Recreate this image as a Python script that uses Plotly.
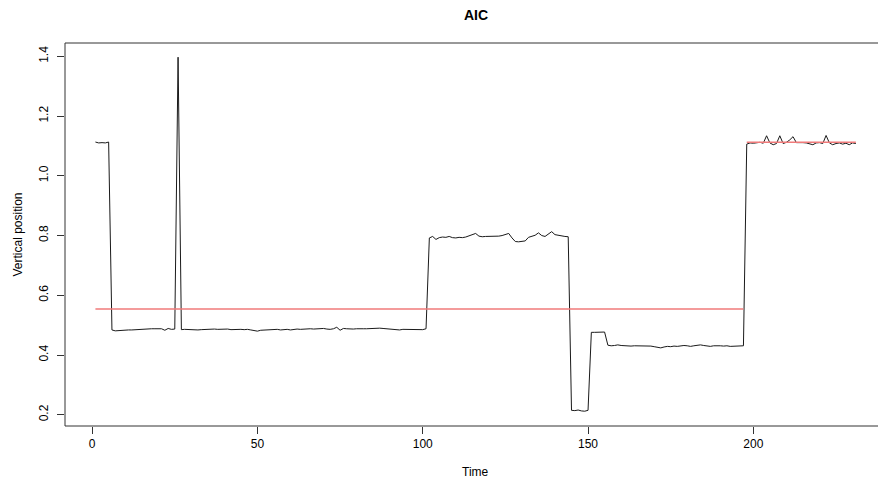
import plotly.graph_objects as go

# ---- data ----
seg_a = [1.113, 1.110, 1.111, 1.110, 1.113]                      # t 1-5
seg_b = [0.484, 0.481, 0.482, 0.484, 0.485, 0.484, 0.484, 0.485, 0.485, 0.486,
         0.486, 0.487, 0.488, 0.488, 0.487, 0.488, 0.483, 0.489, 0.486, 0.487]  # t 6-25
seg_spike = [1.397]                                               # t 26
seg_c = [0.485, 0.486, 0.485, 0.486, 0.485, 0.484, 0.485, 0.486, 0.485, 0.486,
         0.487, 0.486, 0.487, 0.486, 0.487, 0.485, 0.486, 0.485, 0.486, 0.485,
         0.486, 0.484, 0.482, 0.480, 0.483, 0.484, 0.484, 0.486, 0.485, 0.486,
         0.484, 0.485, 0.486, 0.484, 0.486, 0.487, 0.486, 0.487, 0.489, 0.488,
         0.487, 0.488, 0.490, 0.489, 0.487, 0.486, 0.488, 0.493, 0.483, 0.489,
         0.488, 0.487, 0.487, 0.488, 0.489, 0.488, 0.488, 0.489, 0.490, 0.491,
         0.490, 0.489, 0.488, 0.487, 0.486, 0.484, 0.484, 0.486, 0.486, 0.485,
         0.486, 0.485, 0.484, 0.485, 0.488]                       # t 27-101
seg_d = [0.792, 0.797, 0.787, 0.793, 0.795, 0.794, 0.797, 0.793, 0.792, 0.794,
         0.793, 0.795, 0.799, 0.803, 0.807, 0.798, 0.796, 0.797, 0.797, 0.798,
         0.799, 0.798, 0.800, 0.803, 0.807, 0.792, 0.780, 0.779, 0.781, 0.782,
         0.794, 0.797, 0.801, 0.809, 0.800, 0.797, 0.806, 0.813, 0.803, 0.801,
         0.797, 0.797, 0.796]                                     # t 102-144
seg_e = [0.215, 0.214, 0.216, 0.213, 0.212, 0.215]                # t 145-150
seg_f = [0.476, 0.476, 0.477, 0.477, 0.477]                       # t 151-155
seg_g = [0.433, 0.431, 0.432, 0.434, 0.432, 0.431, 0.431, 0.430, 0.431, 0.431,
         0.430, 0.431, 0.432, 0.430, 0.428, 0.427, 0.424, 0.427, 0.429, 0.428,
         0.430, 0.429, 0.431, 0.432, 0.431, 0.429, 0.431, 0.433, 0.434, 0.432,
         0.431, 0.429, 0.431, 0.432, 0.431, 0.430, 0.431, 0.429, 0.429, 0.430,
         0.429, 0.431]                                            # t 156-197
seg_h = [1.106, 1.110, 1.109, 1.110, 1.112, 1.109, 1.134, 1.110, 1.104, 1.108,
         1.134, 1.108, 1.112, 1.120, 1.131, 1.111, 1.112, 1.111, 1.110, 1.108,
         1.104, 1.110, 1.111, 1.108, 1.135, 1.110, 1.104, 1.108, 1.110, 1.106,
         1.109, 1.104, 1.110, 1.108]                              # t 198-231

position = seg_a + seg_b + seg_spike + seg_c + seg_d + seg_e + seg_f + seg_g + seg_h
time = list(range(1, len(position) + 1))

# fitted regime means (red)
fit_start = [1, 198]
fit_end = [197, 231]
fit_level = [0.554, 1.112]

x_ticks = [0, 50, 100, 150, 200]
y_ticks = [0.2, 0.4, 0.6, 0.8, 1.0, 1.2, 1.4]

FONT = "Liberation Sans, Arial, Helvetica, sans-serif"

fig = go.Figure()
fig.add_trace(go.Scatter(x=time, y=position, mode="lines",
                         line=dict(color="#1a1a1a", width=1), showlegend=False))
fx, fy = [], []
for s, e, v in zip(fit_start, fit_end, fit_level):
    fx += [s, e, None]
    fy += [v, v, None]
fig.add_trace(go.Scatter(x=fx, y=fy, mode="lines",
                         line=dict(color="#F07A7A", width=1.5), showlegend=False))

fig.update_layout(
    width=878, height=485,
    margin=dict(l=65, r=0, t=43, b=59),
    paper_bgcolor="white", plot_bgcolor="white",
    font=dict(family=FONT, size=12, color="black"),
    showlegend=False,
)
fig.update_xaxes(range=[-8.2, 237.7], tickvals=x_ticks, ticktext=[str(v) for v in x_ticks],
                 showgrid=False, zeroline=False, showline=False,
                 ticks="outside", ticklen=7,
                 tickcolor="#333", tickwidth=1, tickfont=dict(size=12))
fig.update_yaxes(range=[0.1625, 1.4445], tickvals=y_ticks,
                 ticktext=["%.1f" % v for v in y_ticks],
                 showgrid=False, zeroline=False, showline=False,
                 ticks="outside", ticklen=7,
                 tickcolor="#333", tickwidth=1, tickangle=-90,
                 tickfont=dict(size=12), ticklabelstandoff=4)

# plot box: left, bottom and top edges (right edge lies outside the picture)
for x0, x1, y0, y1 in [(0, 1, 1, 1), (0, 1, 0, 0), (0, 0, 0, 1)]:
    fig.add_shape(type="line", xref="paper", yref="paper", x0=x0, x1=x1, y0=y0, y1=y1,
                  line=dict(color="#333", width=1))

fig.add_annotation(text="<b>AIC</b>", x=116, xref="x", y=1, yref="paper",
                   yanchor="middle", yshift=28.5, showarrow=False,
                   font=dict(size=14, family=FONT))
fig.add_annotation(text="Time", x=116, xref="x", y=0, yref="paper",
                   yanchor="middle", yshift=-46, showarrow=False,
                   font=dict(size=12, family=FONT))
fig.add_annotation(text="Vertical position", x=0, xref="paper", xanchor="center",
                   xshift=-48, y=0.5, yref="paper", yanchor="middle",
                   textangle=-90, showarrow=False, font=dict(size=12, family=FONT))

fig.write_html("out.html")
